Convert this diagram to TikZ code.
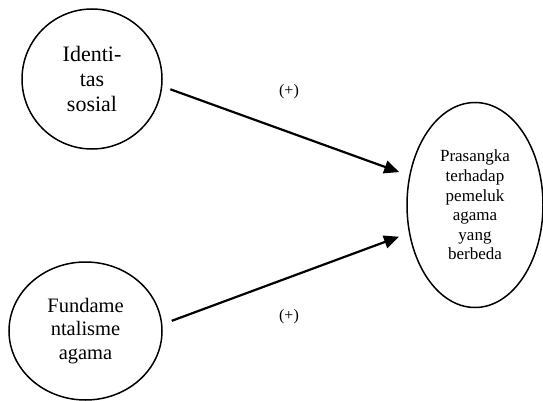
\documentclass[tikz,border=0pt]{standalone}
\usepackage{fontspec}
\setmainfont{Liberation Serif}
\usetikzlibrary{shapes.geometric, arrows.meta}
\tikzset{
  var/.style={draw, ellipse, line width=1.5pt, inner sep=0pt, align=center},
  path/.style={line width=2.2pt, -{Triangle[length=15pt, width=13pt]}},
  sign/.style={font=\fontsize{16}{18}\selectfont}
}
\begin{document}
\begin{tikzpicture}[x=1pt, y=-1pt]
  \useasboundingbox (0,0) rectangle (543,401);
  \node [var, minimum width=140pt, minimum height=140pt,
    font=\fontsize{22}{25}\selectfont] (id) at (92,79) {Identi-\\tas\\sosial};
  \node [var, minimum width=153pt, minimum height=138pt,
    font=\fontsize{20.5}{23.5}\selectfont] (fa) at (85.5,331) {Fundame\\ntalisme\\agama};
  \node [var, minimum width=136pt, minimum height=205pt,
    font=\fontsize{17}{19.6}\selectfont] (pr) at (475,205)
    {Prasangka\\terhadap\\pemeluk\\agama\\yang\\berbeda};

  \draw [path, shorten <=8.5pt, shorten >=10.5pt] (id.-6.6) -- (pr.156.9);
  \draw [path, shorten <=10pt, shorten >=10.5pt] (fa.5.3) -- (pr.203.1);
  \node [sign] (s1) at (289,92) {(+)};
  \node [sign] (s2) at (289,316.5) {(+)};
\end{tikzpicture}
\end{document}
